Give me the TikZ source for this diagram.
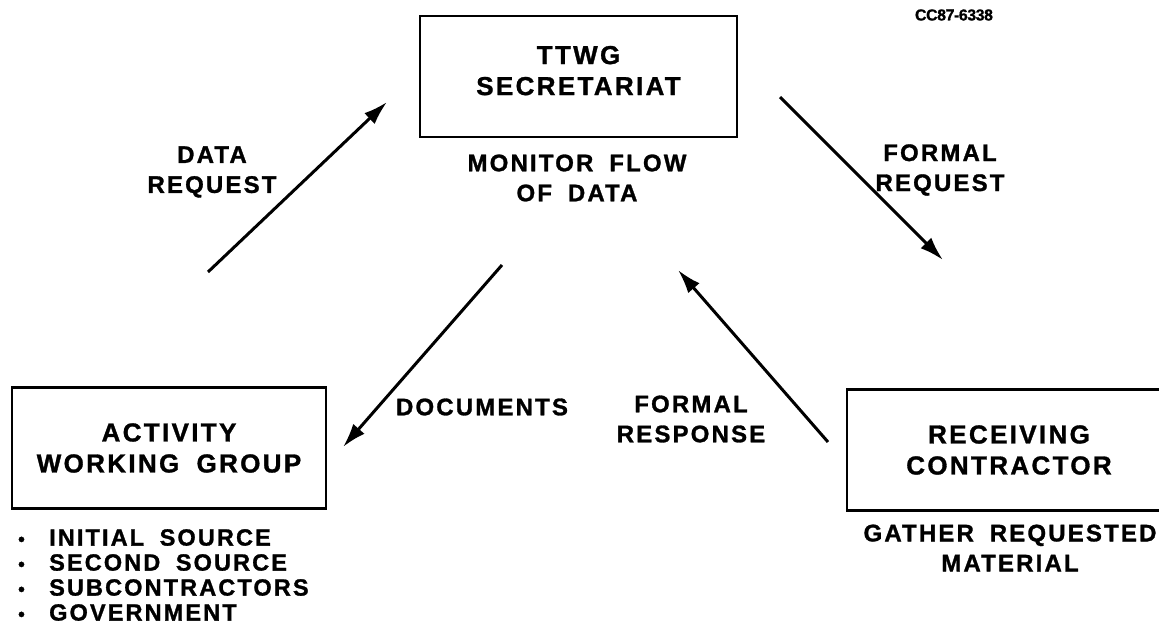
\documentclass[tikz,border=0pt]{standalone}
\usepackage{fontspec}
\setmainfont{Liberation Sans}
\newfontfamily\labfont[LetterSpace=9,WordSpace=1.8,FakeBold=1.2]{Liberation Sans Bold}
\newfontfamily\codefont[LetterSpace=-3,FakeBold=0.8]{Liberation Sans Bold}
\usetikzlibrary{arrows.meta}
\tikzset{
	unit/.style={draw, line width=2.5pt, minimum height=121pt, align=center, inner sep=0pt, font=\labfont\fontsize{26}{31}\selectfont},
	caption/.style={align=center, inner sep=0pt, font=\labfont\fontsize{24}{30}\selectfont},
	flow/.style={line width=3pt, -{Latex[length=24pt,width=15pt]}},
}
\newcommand{\srcitem}[1]{\makebox[31pt][l]{\scalebox{0.8}{\textbullet}}#1}
\begin{document}
\begin{tikzpicture}[x=1pt,y=-1pt]
				\useasboundingbox (0,0) rectangle (1159,634);
				\clip (0,0) rectangle (1159,634);
				\node[font=\codefont\fontsize{16}{16}\selectfont, inner sep=0pt] (code) at (954,15) {CC87-6338};
				\node[unit, minimum width=317pt, text depth=12pt] (secr) at (578.5,76.5) {TTWG\\SECRETARIAT};
				\node[unit, minimum width=314pt] (awg) at (169,448) {ACTIVITY\\WORKING GROUP};
				\node[unit, minimum width=324pt] (rcv) at (1009,450) {RECEIVING\\CONTRACTOR};
				\node[caption] (monitor) at (577,178) {MONITOR FLOW\\OF DATA};
				\node[caption] (datareq) at (212,172) {DATA\\REQUEST};
				\node[caption] (formreq) at (940,170) {FORMAL\\REQUEST};
				\node[caption] (docs) at (482,407) {DOCUMENTS};
				\node[caption] (formresp) at (691,419) {FORMAL\\RESPONSE};
				\node[caption] (gather) at (1010,548) {GATHER REQUESTED\\MATERIAL};
				\node[anchor=north west, align=left, inner sep=0pt, font=\labfont\fontsize{23.5}{25}\selectfont] (sources) at (18,529)
					{\srcitem{INITIAL SOURCE}\\\srcitem{SECOND SOURCE}\\\srcitem{SUBCONTRACTORS}\\\srcitem{GOVERNMENT}};
				\coordinate (dr1) at (208,272);
				\coordinate (dr2) at (387,102);
				\coordinate (fq1) at (780,97);
				\coordinate (fq2) at (943,260);
				\coordinate (dc1) at (502,265);
				\coordinate (dc2) at (343,447);
				\coordinate (fr1) at (828,442);
				\coordinate (fr2) at (678,270);
				\draw[flow] (dr1) -- (dr2);
				\draw[flow] (fq1) -- (fq2);
				\draw[flow] (dc1) -- (dc2);
				\draw[flow] (fr1) -- (fr2);
\end{tikzpicture}
\end{document}
